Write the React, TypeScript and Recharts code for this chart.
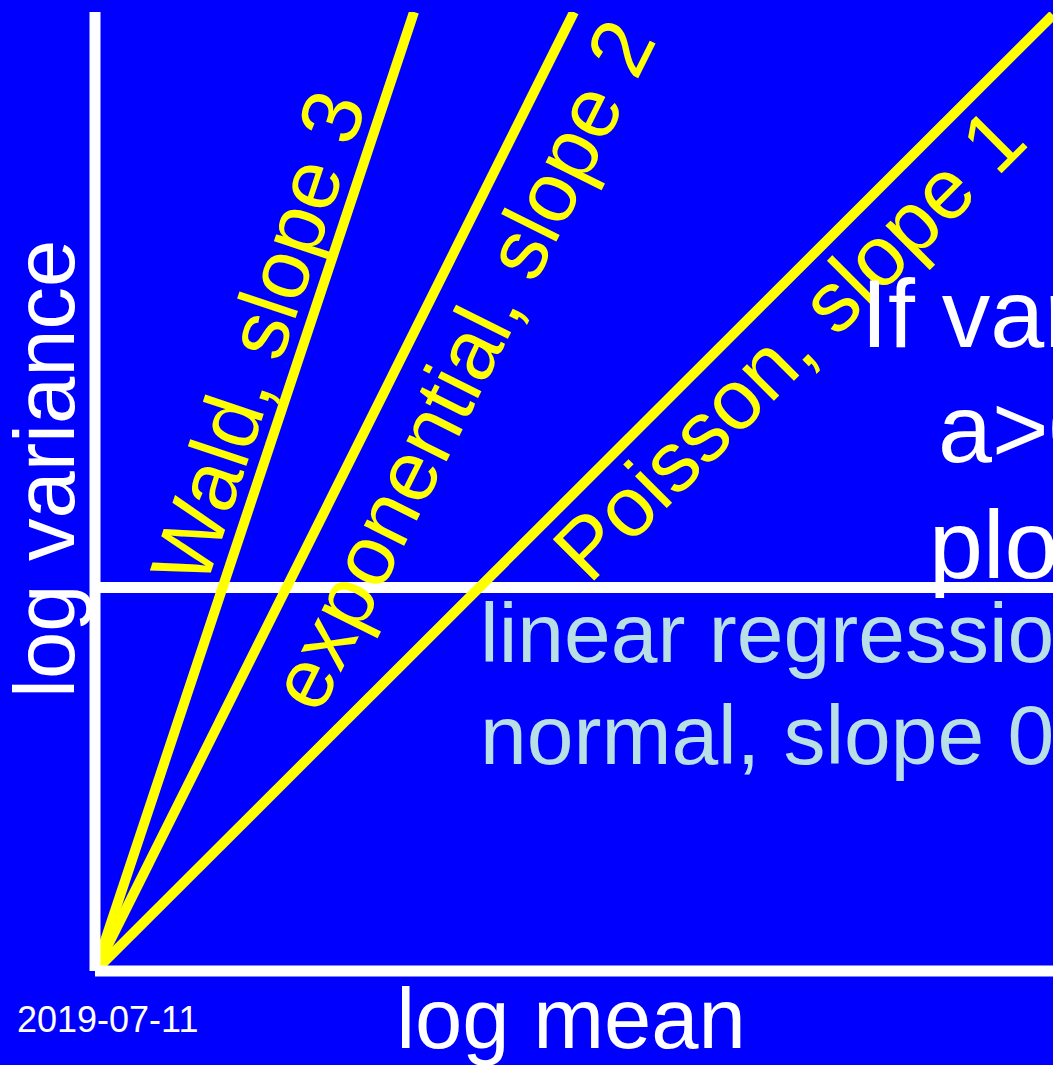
import React from 'react';
import { LineChart, Line, XAxis, YAxis, ReferenceDot } from 'recharts';

// power law lines on log-log axes (axis units 0..100)
const waldLine = [{ x: 0, y: 0 }, { x: 33.3, y: 100 }];
const exponentialLine = [{ x: 0, y: 0 }, { x: 50, y: 100 }];
const poissonLine = [{ x: 0, y: 0 }, { x: 100, y: 99.7 }];
const normalLine = [{ x: 0, y: 40 }, { x: 100, y: 40 }];

const lineNames = ['Wald, slope 3', 'exponential, slope 2', 'Poisson, slope 1'];
const lineAngles = [-71.57, -63.43, -45];
// where each rotated label starts, in axis units
const labelAnchors = [
  { x: 11.5, y: 39.8 },
  { x: 23.4, y: 26.6 },
  { x: 51.6, y: 40.2 },
];

const xTitle = 'log mean';
const yTitle = 'log variance';
const dateText = '2019-07-11';
const slideLines = ['If variance', 'a>0', 'plot'];
const regressionLines = ['linear regression', 'normal, slope 0'];

const W = 1053;
const H = 1065;
const BLUE = '#0000FF';
const YELLOW = '#FFFF00';
const WHITE = '#FFFFFF';
const LIGHT = '#B8DEE6';
const FONT = '"Liberation Sans", Arial, Helvetica, sans-serif';

function rotatedLabel(props: any, text: string, angle: number) {
  const vb = props.viewBox || {};
  const cx = (vb.x ?? 0) + (vb.width ?? 0) / 2;
  const cy = (vb.y ?? 0) + (vb.height ?? 0) / 2;
  return (
    <text
      x={cx}
      y={cy}
      transform={`rotate(${angle} ${cx} ${cy})`}
      fill={YELLOW}
      fontSize={85}
      fontFamily={FONT}
      textAnchor="start"
    >
      {text}
    </text>
  );
}

export default function App() {
  return (
    <div style={{ position: 'absolute', left: 0, top: 0, width: W, height: H, background: BLUE, overflow: 'hidden' }}>
      <LineChart width={W} height={H} margin={{ top: 12, right: 0, left: 0, bottom: 0 }}>
        <XAxis
          type="number"
          dataKey="x"
          domain={[0, 100]}
          allowDataOverflow
          height={94}
          tick={false}
          tickLine={false}
          axisLine={{ stroke: WHITE, strokeWidth: 11 }}
          label={(props: any) => {
            const vb = props.viewBox || { x: 95, y: 971, width: 958 };
            return (
              <g>
                <text x={vb.x + vb.width / 2 - 3} y={1048} fill={WHITE} fontSize={85} fontFamily={FONT} textAnchor="middle">
                  {xTitle}
                </text>
                <text x={17} y={1032} fill={WHITE} fontSize={36} fontFamily={FONT}>
                  {dateText}
                </text>
              </g>
            );
          }}
        />
        <YAxis
          type="number"
          dataKey="y"
          domain={[0, 100]}
          allowDataOverflow
          width={95}
          tick={false}
          tickLine={false}
          axisLine={{ stroke: WHITE, strokeWidth: 11 }}
          label={() => (
            <text x={74} y={698} transform="rotate(-90 74 698)" fill={WHITE} fontSize={85} fontFamily={FONT}>
              {yTitle}
            </text>
          )}
        />
        <Line data={normalLine} dataKey="y" type="linear" stroke={WHITE} strokeWidth={11} dot={false} isAnimationActive={false} />
        <Line data={waldLine} dataKey="y" type="linear" stroke={YELLOW} strokeWidth={10} dot={false} isAnimationActive={false} />
        <Line data={exponentialLine} dataKey="y" type="linear" stroke={YELLOW} strokeWidth={10} dot={false} isAnimationActive={false} />
        <Line data={poissonLine} dataKey="y" type="linear" stroke={YELLOW} strokeWidth={10} dot={false} isAnimationActive={false} />
        {labelAnchors.map((a, i) => (
          <ReferenceDot
            key={i}
            x={a.x}
            y={a.y}
            r={1}
            fill="none"
            stroke="none"
            label={(props: any) => rotatedLabel(props, lineNames[i], lineAngles[i])}
          />
        ))}
      </LineChart>

      {/* slide text that runs off the right edge */}
      <svg width={W} height={H} style={{ position: 'absolute', left: 0, top: 0, pointerEvents: 'none' }}>
        <text x={861} y={347} fill={WHITE} fontSize={97} fontFamily={FONT}>{slideLines[0]}</text>
        <text x={938} y={462} fill={WHITE} fontSize={97} fontFamily={FONT}>{slideLines[1]}</text>
        <text x={929} y={578} fill={WHITE} fontSize={97} fontFamily={FONT}>{slideLines[2]}</text>
        <text x={480} y={662} fill={LIGHT} fontSize={84} fontFamily={FONT}>{regressionLines[0]}</text>
        <text x={480} y={764} fill={LIGHT} fontSize={84} fontFamily={FONT}>{regressionLines[1]}</text>
      </svg>
    </div>
  );
}
